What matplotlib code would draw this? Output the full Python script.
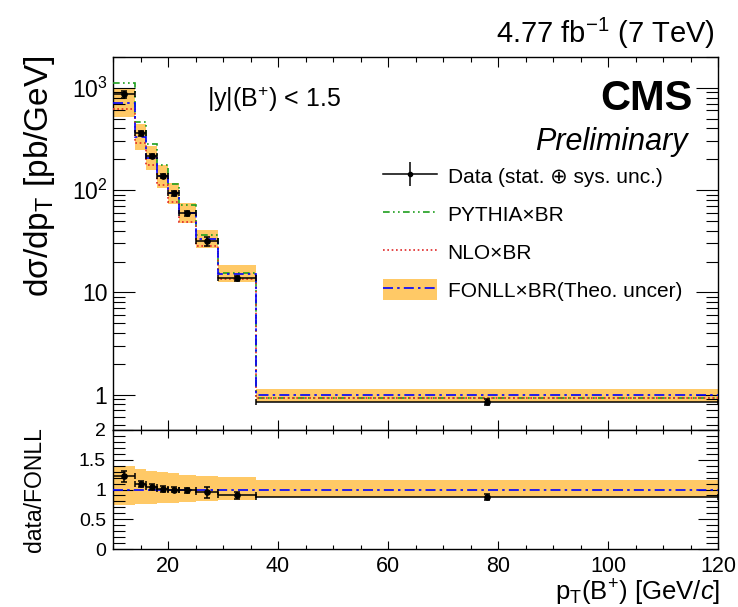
import numpy as np
import matplotlib
matplotlib.use("Agg")
import matplotlib.pyplot as plt
from matplotlib.patches import Patch
from matplotlib.lines import Line2D
from matplotlib.legend_handler import HandlerTuple
from matplotlib.ticker import (MultipleLocator, LogLocator, FixedLocator,
                               FixedFormatter, NullFormatter)

# ---- binning and cross sections (pb/GeV) ----
pt_edges = [10, 14, 16, 18, 20, 22, 25, 29, 36, 120]
data_xsec = [862, 358, 215, 138, 93, 59, 31.7, 13.7, 0.85]
data_relerr = [0.07, 0.05, 0.05, 0.05, 0.05, 0.05, 0.10, 0.06, 0.06]
fonll_xsec = [707, 328, 206, 136, 93, 60, 33.2, 15.2, 0.98]
fonll_rel_up = [0.39, 0.34, 0.31, 0.29, 0.27, 0.25, 0.23, 0.21, 0.16]
fonll_rel_down = [0.26, 0.25, 0.24, 0.23, 0.22, 0.21, 0.19, 0.17, 0.13]
pythia_xsec = [1119, 459, 282, 175, 114, 72, 36, 15.4, 0.93]
nlo_xsec = [615, 290, 176, 112, 77, 49, 28.4, 13.5, 0.92]

xticks = [20, 40, 60, 80, 100, 120]
ytick_vals = [1, 10, 100, 1000]
ytick_labels = ["1", "10", "$10^{2}$", "$10^{3}$"]
ratio_ticks = [0, 0.5, 1, 1.5, 2]
ratio_labels = ["0", "0.5", "1", "1.5", "2"]

plt.rcParams["font.family"] = ["Liberation Sans", "DejaVu Sans"]
plt.rcParams["mathtext.fontset"] = "custom"
plt.rcParams["mathtext.rm"] = "Liberation Sans"
plt.rcParams["mathtext.it"] = "Liberation Sans:italic"
plt.rcParams["mathtext.bf"] = "Liberation Sans:bold"

ORANGE = "#FFC966"
BLUE = "#0000FF"
GREEN = "#1E9E1E"
RED = "#E02828"
ls_pythia = (0, (4, 2, 1, 2, 1, 2))
ls_nlo = (0, (1, 1.6))
ls_fonll = (0, (6, 2.5, 1.5, 2.5))

edges = np.array(pt_edges, float)
centers = 0.5 * (edges[1:] + edges[:-1])
halfw = 0.5 * (edges[1:] - edges[:-1])
data = np.array(data_xsec)
derr = data * np.array(data_relerr)
fonll = np.array(fonll_xsec)
f_hi = fonll * (1 + np.array(fonll_rel_up))
f_lo = fonll * (1 - np.array(fonll_rel_down))

W, H = 738, 607
fig = plt.figure(figsize=(W / 100, H / 100), dpi=100)
L, R = 113, 718
T1, B1 = 57, 430
B2 = 549
ax = fig.add_axes([L / W, 1 - B1 / H, (R - L) / W, (B1 - T1) / H])
axr = fig.add_axes([L / W, 1 - B2 / H, (R - L) / W, (B2 - B1) / H], sharex=ax)

# ---- upper panel ----
ax.stairs(f_hi, edges, baseline=f_lo, fill=True, color=ORANGE, lw=0, zorder=1)
ax.stairs(pythia_xsec, edges, baseline=None, color=GREEN, lw=1.2,
          linestyle=ls_pythia, zorder=3)
ax.stairs(nlo_xsec, edges, baseline=None, color=RED, lw=1.2,
          linestyle=ls_nlo, zorder=3)
ax.stairs(fonll, edges, baseline=None, color=BLUE, lw=1.2,
          linestyle=ls_fonll, zorder=3)
ax.errorbar(centers, data, xerr=halfw, yerr=derr, fmt="o", color="black",
            ms=3.8, elinewidth=1.1, capsize=2.2, capthick=1.1, zorder=5)

ax.set_yscale("log")
ax.set_xlim(10, 120)
ax.set_ylim(0.45, 2000)
ax.yaxis.set_major_locator(FixedLocator(ytick_vals))
ax.yaxis.set_major_formatter(FixedFormatter(ytick_labels))
ax.yaxis.set_minor_locator(LogLocator(base=10, subs=np.arange(2, 10)))
ax.yaxis.set_minor_formatter(NullFormatter())

# ---- ratio panel ----
ratio = data / fonll
rerr = derr / fonll
r_hi = 1 + np.array(fonll_rel_up)
r_lo = 1 - np.array(fonll_rel_down)
axr.stairs(r_hi, edges, baseline=r_lo, fill=True, color=ORANGE, lw=0, zorder=1)
axr.stairs(fonll / fonll, edges, baseline=None, color=BLUE, lw=1.2,
           linestyle=ls_fonll, zorder=3)
axr.errorbar(centers, ratio, xerr=halfw, yerr=rerr, fmt="o", color="black",
             ms=3.8, elinewidth=1.1, capsize=2.2, capthick=1.1, zorder=5)
axr.set_ylim(0, 2)
axr.yaxis.set_major_locator(FixedLocator(ratio_ticks))
axr.yaxis.set_major_formatter(FixedFormatter(ratio_labels))
axr.yaxis.set_minor_locator(MultipleLocator(0.1))
axr.xaxis.set_major_locator(FixedLocator(xticks))
axr.xaxis.set_major_formatter(FixedFormatter([str(v) for v in xticks]))
axr.xaxis.set_minor_locator(MultipleLocator(5))

# ---- tick styling ----
for a in (ax, axr):
    for s in a.spines.values():
        s.set_linewidth(1.0)
    a.tick_params(which="both", direction="in", top=True, right=True,
                  width=0.8, color="black")
ax.tick_params(axis="y", which="major", length=16, labelsize=16.5, pad=4)
ax.tick_params(axis="y", which="minor", length=8.6)
ax.tick_params(axis="x", which="major", length=7.2)
ax.tick_params(axis="x", which="minor", length=3.6)
ax.tick_params(axis="x", labelbottom=False)
axr.tick_params(axis="y", which="major", length=14.4, labelsize=14, pad=5)
axr.tick_params(axis="y", which="minor", length=8.6)
axr.tick_params(axis="x", which="major", length=6, labelsize=15.5, pad=5)
axr.tick_params(axis="x", which="minor", length=3)

# ---- labels and annotations ----
fig.text(40 / W, 1 - 55 / H, "dσ/dp$_{\\mathrm{T}}$ [pb/GeV]", rotation=90,
         ha="center", va="top", fontsize=24)
fig.text(35 / W, 1 - 490 / H, "data/FONLL", rotation=90,
         ha="center", va="center", fontsize=16.5)
fig.text(720 / W, 1 - 601 / H, "p$_{\\mathrm{T}}$(B$^{+}$) [GeV/$c$]",
         ha="right", va="baseline", fontsize=18.5)
fig.text(715 / W, 1 - 43 / H, "4.77 fb$^{-1}$ (7 TeV)", ha="right",
         va="baseline", fontsize=21)
fig.text(693 / W, 1 - 110 / H, "CMS", ha="right", va="baseline",
         fontsize=30, fontweight="bold")
fig.text(688 / W, 1 - 150 / H, "Preliminary", ha="right", va="baseline",
         fontsize=22, fontstyle="italic")
fig.text(207 / W, 1 - 107 / H, "|y|(B$^{+}$) < 1.5", ha="left",
         va="baseline", fontsize=18)

# ---- legend ----
h_data = (Line2D([], [], color="black", lw=1.1),
          Line2D([], [], color="black", marker="|", ms=17, mew=1.1, ls="none"),
          Line2D([], [], color="black", marker="o", ms=3, ls="none"))
h_pythia = Line2D([], [], color=GREEN, lw=1.2, linestyle=ls_pythia)
h_nlo = Line2D([], [], color=RED, lw=1.2, linestyle=ls_nlo)
h_fonll = (Patch(facecolor=ORANGE, edgecolor="none"),
           Line2D([], [], color=BLUE, lw=1.2, linestyle=ls_fonll))
ax.legend([h_data, h_pythia, h_nlo, h_fonll],
          ["Data (stat. ⊕ sys. unc.)", "PYTHIA×BR", "NLO×BR",
           "FONLL×BR(Theo. uncer)"],
          handler_map={tuple: HandlerTuple(ndivide=1, pad=0)},
          loc="upper left", bbox_to_anchor=(383 / W, 1 - 165 / H),
          bbox_transform=fig.transFigure, frameon=False, fontsize=15,
          handlelength=2.6, handleheight=1.2, handletextpad=0.5,
          labelspacing=0.78, borderpad=0, borderaxespad=0)

fig.savefig("out.png", dpi=100)
